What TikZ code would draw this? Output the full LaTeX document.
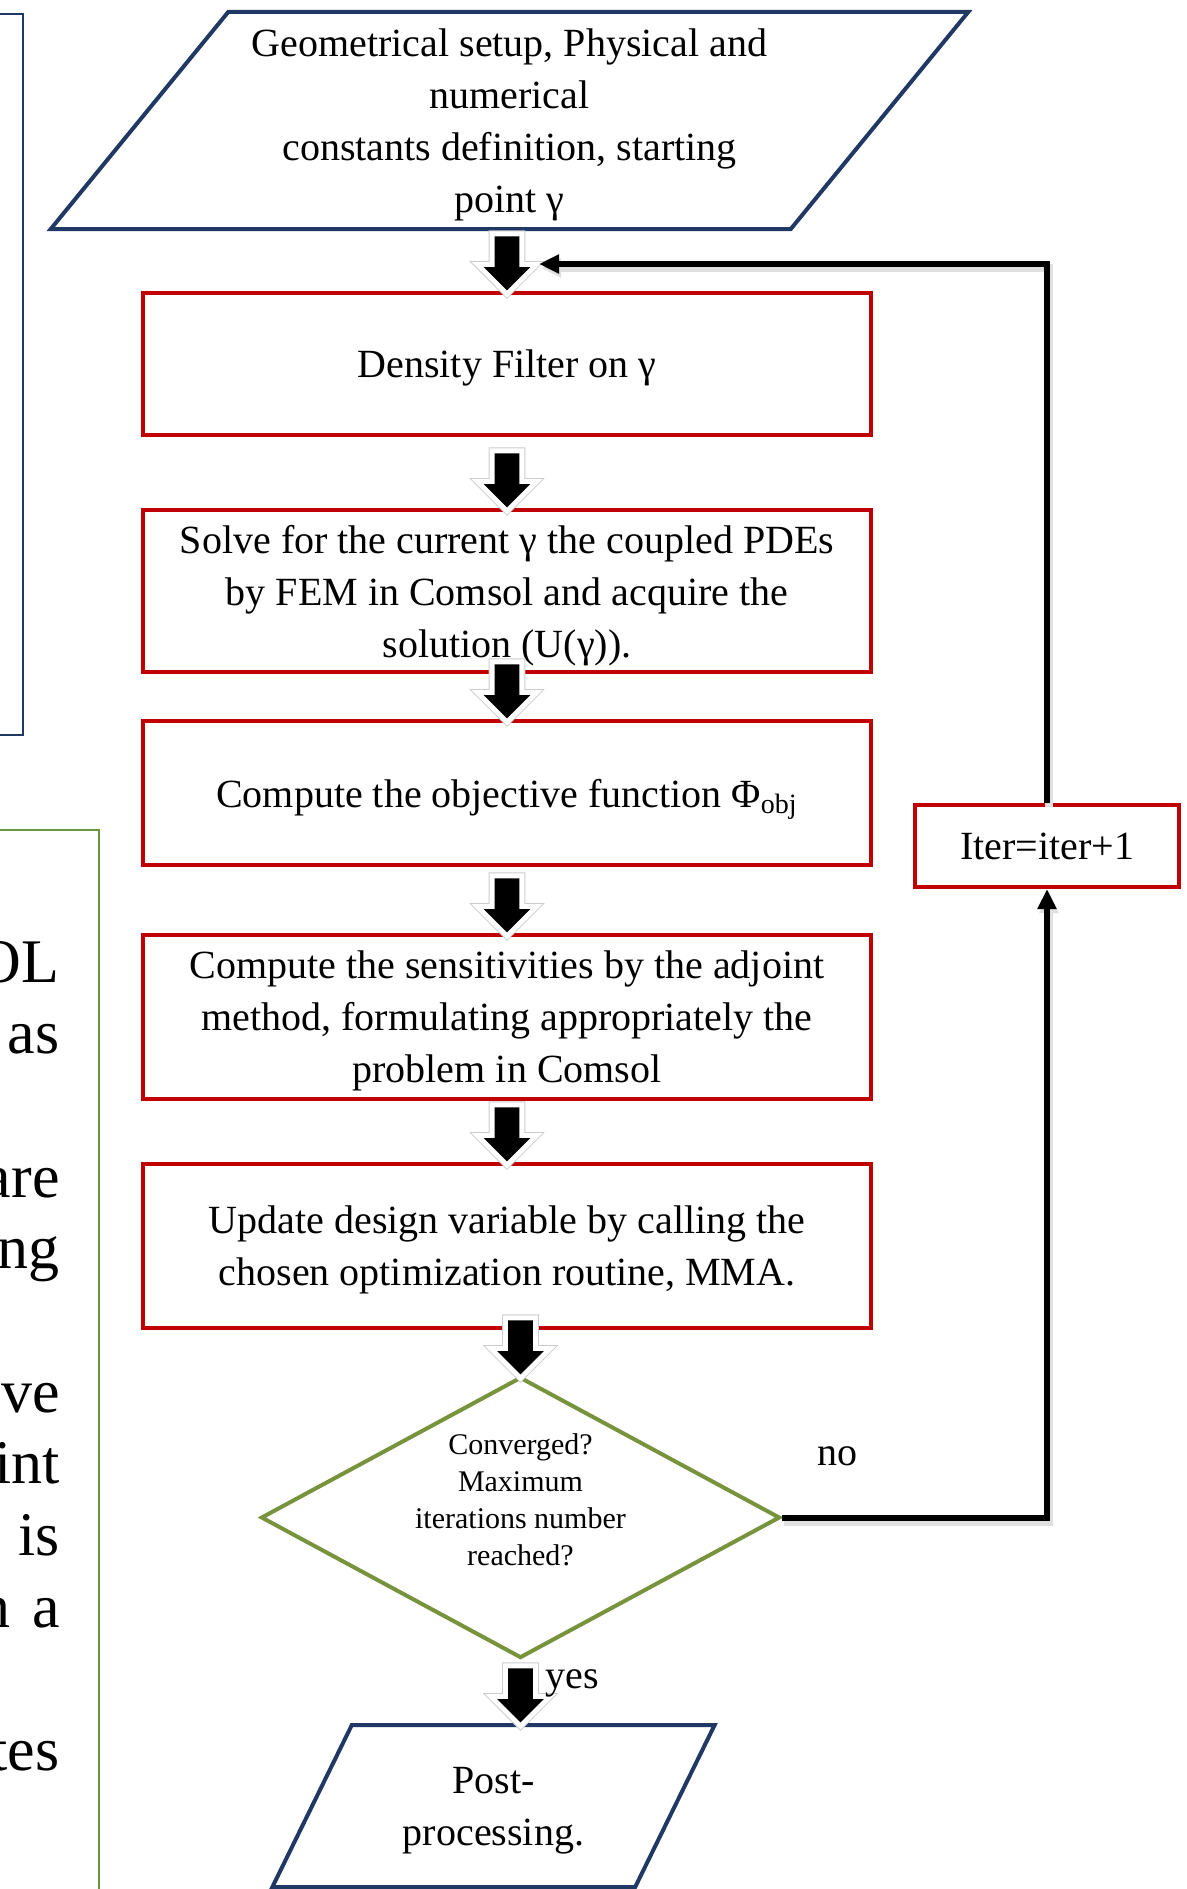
\documentclass[tikz,border=0pt]{standalone}
\usepackage{fontspec}
\setmainfont{Liberation Serif}
\usetikzlibrary{shapes.geometric, shapes.arrows, arrows.meta}

\definecolor{boxred}{RGB}{192,0,0}
\definecolor{navy}{RGB}{32,56,100}
\definecolor{olive}{RGB}{119,147,60}
\definecolor{leafgreen}{RGB}{106,150,64}

\begin{document}
\begin{tikzpicture}[x=0.5pt, y=-0.5pt,
        txt/.style={font=\fontsize{20}{26}\selectfont, align=center, text depth=0pt},
        redbox/.style={txt, shape=rectangle, draw=boxred, line width=2pt, minimum width=364pt, inner sep=0pt},
        iobox/.style={txt, trapezium, trapezium stretches=true, draw=navy, line width=2pt, inner sep=0pt},
        fatarrow/.style={single arrow, rotate=-90, anchor=tip, fill=black, inner xsep=0pt, inner ysep=6pt,
            minimum height=27pt, minimum width=23pt, single arrow head extend=5.5pt, single arrow tip angle=90,
            preaction={draw=black!20, line width=6pt}, preaction={draw=white, line width=5pt}},
        loopline/.style={line width=3pt, -{Triangle[length=10pt, width=9pt]},
            preaction={draw=black!12, line width=4pt, transform canvas={shift={(1pt,-2pt)}}}},
        sidetext/.style={anchor=base east, font=\fontsize{31}{36}\selectfont, inner sep=0pt}]
        \useasboundingbox (0,0) rectangle (1187,1889);
        % Boxes cut by the page edge:
        \draw[navy, line width=1pt] (-20,14) rectangle (23,735);
        \draw[leafgreen, line width=1pt] (-20,830) rectangle (99,1930);
        \foreach \n/\w in {0/OL, 1/as, 3/are, 4/ng, 6/ve, 7/int, 8/is, 9/{in\hspace{0.35em}a}, 11/tes}
            \node[sidetext] (S\n) at (60, 982+71.7*\n) {\w};
        % Flow chart:
        \node[iobox, trapezium left angle=48.5, trapezium right angle=131.5, minimum width=461.5pt, minimum height=108.5pt] (N1) at (509.5,120.5)
            {Geometrical setup, Physical and\\numerical\\constants definition, starting\\point γ};
        \node[redbox, minimum height=71pt] (N2) at (507,364) {Density Filter on γ};
        \node[redbox, minimum height=81pt] (N3) at (507,591) {Solve for the current γ the coupled PDEs\\by FEM in Comsol and acquire the\\solution (U(γ)).};
        \node[redbox, minimum height=72pt] (N4) at (507,793) {Compute the objective function Φ\textsubscript{obj}};
        \node[redbox, minimum height=82pt] (N5) at (507,1017) {Compute the sensitivities by the adjoint\\method, formulating appropriately the\\problem in Comsol};
        \node[redbox, minimum height=82pt] (N6) at (507,1246) {Update design variable by calling the\\chosen optimization routine, MMA.};
        \node[diamond, draw=olive, line width=2pt, minimum width=259.5pt, minimum height=140.5pt, inner sep=0pt] (N7) at (520.5,1517.5) {};
        \node[align=center, font=\fontsize{15}{18.5}\selectfont] (N7t) at ([yshift=9pt]N7.center) {Converged?\\Maximum\\iterations number\\reached?};
        \node[redbox, minimum width=132pt, minimum height=41pt] (N8) at (1047,846) {Iter=iter+1};
        \node[iobox, trapezium left angle=57, trapezium right angle=123, minimum width=221.5pt, minimum height=81pt] (N9) at (493.5,1806)
            {Post-\\processing.};
        % Arrows:
        \foreach \b in {N2, N3, N4, N5, N6, N7}
            \node[fatarrow] (A\b) at (\b.north) {};
        \node[fatarrow] (AN9) at (N7.south |- N9.north) {};
        \coordinate (back) at (539,264);
        \draw[loopline] (N7.east) -- (N7.east -| N8.south) -- (N8.south);
        \draw[loopline] (N8.north) |- (back);
        \node[txt] (no) at (837,1456) {no};
        \node[txt] (yes) at (572,1679) {yes};
    \end{tikzpicture}
\end{document}
